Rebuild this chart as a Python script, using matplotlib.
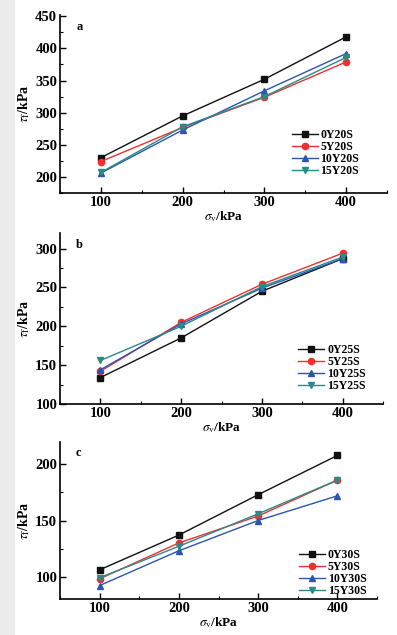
import matplotlib.pyplot as plt
from matplotlib.ticker import MultipleLocator
from matplotlib.patches import Rectangle

plt.rcParams['font.family'] = ['Liberation Serif', 'DejaVu Serif']
plt.rcParams['mathtext.fontset'] = 'stix'

sigma = [100, 200, 300, 400]

# panel a
labels_a = ['0Y20S', '5Y20S', '10Y20S', '15Y20S']
tau_a_0 = [230, 295, 352, 418]
tau_a_5 = [224, 277, 324, 379]
tau_a_10 = [206, 273, 334, 392]
tau_a_15 = [207, 278, 325, 386]

# panel b
labels_b = ['0Y25S', '5Y25S', '10Y25S', '15Y25S']
tau_b_0 = [134, 185, 245, 287]
tau_b_5 = [142, 205, 254, 294]
tau_b_10 = [144, 203, 249, 287]
tau_b_15 = [156, 200, 251, 289]

# panel c
labels_c = ['0Y30S', '5Y30S', '10Y30S', '15Y30S']
tau_c_0 = [106, 137, 173, 208]
tau_c_5 = [98, 130, 154, 186]
tau_c_10 = [92, 123, 150, 172]
tau_c_15 = [99, 127, 156, 186]

colors = ['#111111', '#f03030', '#2a55b0', '#2b8a86']
markers = ['s', 'o', '^', 'v']

W, H = 397, 635
fig = plt.figure(figsize=(W / 100, H / 100), dpi=100)
fig.patches.append(Rectangle((0, 0), 14 / W, 1, transform=fig.transFigure,
                             color='#ececec', zorder=0))


def ax_box(left, right, top, bottom):
    return [left / W, 1 - bottom / H, (right - left) / W, (bottom - top) / H]


panels = [
    dict(box=ax_box(60, 387, 15, 193), data=[tau_a_0, tau_a_5, tau_a_10, tau_a_15],
         labels=labels_a, ylim=(175, 452), letter='a', leg=(0.69, 0.39)),
    dict(box=ax_box(60, 383, 233, 404), data=[tau_b_0, tau_b_5, tau_b_10, tau_b_15],
         labels=labels_b, ylim=(100, 320), letter='b', leg=(0.72, 0.385)),
    dict(box=ax_box(60, 377, 442, 599), data=[tau_c_0, tau_c_5, tau_c_10, tau_c_15],
         labels=labels_c, ylim=(80, 220), letter='c', leg=(0.735, 0.355)),
]

for p in panels:
    ax = fig.add_axes(p['box'])
    for tau, lab, c, m in zip(p['data'], p['labels'], colors, markers):
        ax.plot(sigma, tau, color=c, marker=m, markersize=4.5, linewidth=1.0,
                label=lab)
    ax.set_xlim(50, 450)
    ax.set_ylim(*p['ylim'])
    ax.xaxis.set_major_locator(MultipleLocator(100))
    ax.xaxis.set_minor_locator(MultipleLocator(50))
    ax.yaxis.set_major_locator(MultipleLocator(50))
    ax.yaxis.set_minor_locator(MultipleLocator(25))
    for s in ['top', 'right']:
        ax.spines[s].set_visible(False)
    for s in ['left', 'bottom']:
        ax.spines[s].set_linewidth(1.2)
    ax.tick_params(which='major', direction='in', length=4, width=1,
                   labelsize=10.5, pad=2)
    ax.tick_params(which='minor', direction='in', length=2, width=0.8)
    for t in ax.get_xticklabels() + ax.get_yticklabels():
        t.set_fontweight('bold')
    ax.set_xlabel(r'$\sigma_{\rm v}$/kPa', fontsize=9.5, fontweight='bold',
                  labelpad=0)
    ax.set_ylabel(r'$\tau_{\rm f}$/kPa', fontsize=10, fontweight='bold',
                  labelpad=2)
    ax.text(0.05, 0.965, p['letter'], transform=ax.transAxes, fontsize=9,
            fontweight='bold', va='top')
    ax.legend(loc='upper left', bbox_to_anchor=p['leg'], frameon=False,
              handlelength=2.2, handletextpad=0.25,
              labelspacing=0.0, borderpad=0, prop={'weight': 'bold', 'size': 8.5})

fig.savefig('out.png', dpi=100)
